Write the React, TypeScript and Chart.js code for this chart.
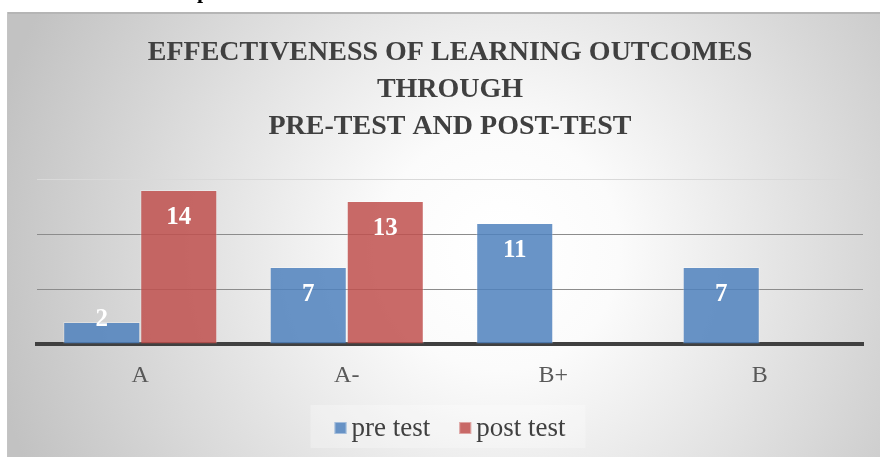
import React, { useEffect, useRef } from 'react';
import { Chart, registerables } from 'chart.js';

Chart.register(...registerables);

const categories = ['A', 'A-', 'B+', 'B'];
const preTest: (number | null)[] = [2, 7, 11, 7];
const postTest: (number | null)[] = [14, 13, null, null];
const seriesNames = ['pre test', 'post test'];
const seriesColors = ['rgba(79,129,189,0.85)', 'rgba(192,80,77,0.85)'];
const titleLines = ['EFFECTIVENESS OF LEARNING OUTCOMES', 'THROUGH', 'PRE-TEST AND POST-TEST'];
const yTicks = [0, 5, 10, 15];

const SERIF = '"Liberation Serif", "Times New Roman", serif';

const bgPlugin = {
  id: 'bgPanel',
  beforeDraw(chart: any) {
    const { ctx, width, height } = chart;
    ctx.save();
    ctx.fillStyle = '#ffffff';
    ctx.fillRect(0, 0, width, height);
    // fragment of document text above the chart
    ctx.fillStyle = '#000000';
    ctx.font = `bold 22px ${SERIF}`;
    ctx.textBaseline = 'alphabetic';
    ctx.textAlign = 'left';
    ctx.fillText('p', 197, -2);
    const px = 7, py = 12;
    const g = ctx.createRadialGradient(500, 250, 20, 500, 250, 520);
    g.addColorStop(0, '#ffffff');
    g.addColorStop(0.2, '#fbfbfb');
    g.addColorStop(1, '#c2c2c2');
    ctx.fillStyle = g;
    ctx.fillRect(px, py, width - px, height - py);
    ctx.fillStyle = '#b5b5b5';
    ctx.fillRect(px, py, width - px, 2);
    ctx.fillStyle = '#c4c4c4';
    ctx.fillRect(px, py, 1, height - py);
    ctx.restore();
  },
};

const labelPlugin = {
  id: 'barLabels',
  afterDatasetsDraw(chart: any) {
    const { ctx } = chart;
    ctx.save();
    ctx.font = `bold 25px ${SERIF}`;
    ctx.fillStyle = '#ffffff';
    ctx.textAlign = 'center';
    ctx.textBaseline = 'middle';
    chart.data.datasets.forEach((ds: any, i: number) => {
      const meta = chart.getDatasetMeta(i);
      meta.data.forEach((bar: any, j: number) => {
        const v = ds.data[j];
        if (v == null) return;
        const { x, y, base } = bar.getProps(['x', 'y', 'base'], true);
        const ly = Math.min(y + 27.5, base - 24);
        ctx.fillText(String(v), x, ly);
      });
    });
    ctx.restore();
  },
};

const legendPlugin = {
  id: 'customLegend',
  afterDraw(chart: any) {
    const { ctx, chartArea, height } = chart;
    ctx.save();
    ctx.font = `27px ${SERIF}`;
    const box = 12, gapText = 5, gapItem = 29;
    const items = chart.data.datasets.map((ds: any) => ({
      label: ds.label as string,
      color: ds.backgroundColor as string,
      w: ctx.measureText(ds.label).width,
    }));
    const total = items.reduce(
      (s: number, it: any, i: number) => s + box + gapText + it.w + (i ? gapItem : 0),
      0
    );
    const cx = (chartArea.left + chartArea.right) / 2;
    let x = cx - total / 2;
    const cy = height - 29;
    ctx.fillStyle = 'rgba(255,255,255,0.28)';
    ctx.fillRect(x - 24, cy - 23, total + 44, 43);
    ctx.textAlign = 'left';
    ctx.textBaseline = 'alphabetic';
    items.forEach((it: any) => {
      ctx.fillStyle = it.color;
      ctx.fillRect(x, cy - 6, box, box);
      ctx.strokeStyle = 'rgba(255,255,255,0.4)';
      ctx.lineWidth = 1;
      ctx.strokeRect(x + 0.5, cy - 5.5, box - 1, box - 1);
      ctx.fillStyle = '#404040';
      ctx.fillText(it.label, x + box + gapText, cy + 8);
      x += box + gapText + it.w + gapItem;
    });
    ctx.restore();
  },
};

export default function App() {
  const canvasRef = useRef<HTMLCanvasElement | null>(null);

  useEffect(() => {
    const canvas = canvasRef.current;
    if (!canvas) return;
    const chart = new Chart(canvas, {
      type: 'bar',
      data: {
        labels: categories,
        datasets: [
          {
            label: seriesNames[0],
            data: preTest,
            backgroundColor: seriesColors[0],
            borderColor: 'rgba(255,255,255,0.3)',
            borderWidth: 1,
            categoryPercentage: 0.746,
            barPercentage: 1.0,
          },
          {
            label: seriesNames[1],
            data: postTest,
            backgroundColor: seriesColors[1],
            borderColor: 'rgba(255,255,255,0.3)',
            borderWidth: 1,
            categoryPercentage: 0.746,
            barPercentage: 1.0,
          },
        ],
      },
      options: {
        responsive: false,
        animation: false,
        devicePixelRatio: 1,
        layout: { padding: { left: 37, right: 17, top: 0, bottom: 0 } },
        plugins: {
          legend: { display: false },
          tooltip: { enabled: false },
          title: {
            display: true,
            fullSize: false,
            text: titleLines,
            color: '#404040',
            font: { family: SERIF, size: 28, weight: 'bold', lineHeight: 37 / 28 },
            padding: { top: 34.5, bottom: 33.5 },
          },
        },
        scales: {
          x: {
            z: 1,
            grid: { display: false, drawTicks: false },
            border: { display: true, color: '#404040', width: 4 },
            ticks: {
              color: '#595959',
              font: { family: SERIF, size: 24 },
              padding: 17,
            },
            afterFit: (s: any) => {
              s.height = 113;
            },
          },
          y: {
            min: yTicks[0],
            max: yTicks[yTicks.length - 1],
            ticks: { display: false, stepSize: yTicks[1] - yTicks[0] },
            border: { display: false },
            grid: {
              drawTicks: false,
              lineWidth: 1,
              color: (c: any) =>
                c.tick && c.tick.value === yTicks[yTicks.length - 1]
                  ? '#d9d9d9'
                  : c.tick && c.tick.value === yTicks[0]
                  ? 'rgba(0,0,0,0)'
                  : '#8c8c8c',
            },
          },
        },
      },
      plugins: [bgPlugin, labelPlugin, legendPlugin],
    } as any);
    return () => chart.destroy();
  }, []);

  return (
    <div style={{ position: 'absolute', left: 0, top: 0, width: 880, height: 457 }}>
      <canvas ref={canvasRef} width={880} height={457} style={{ display: 'block' }} />
    </div>
  );
}
